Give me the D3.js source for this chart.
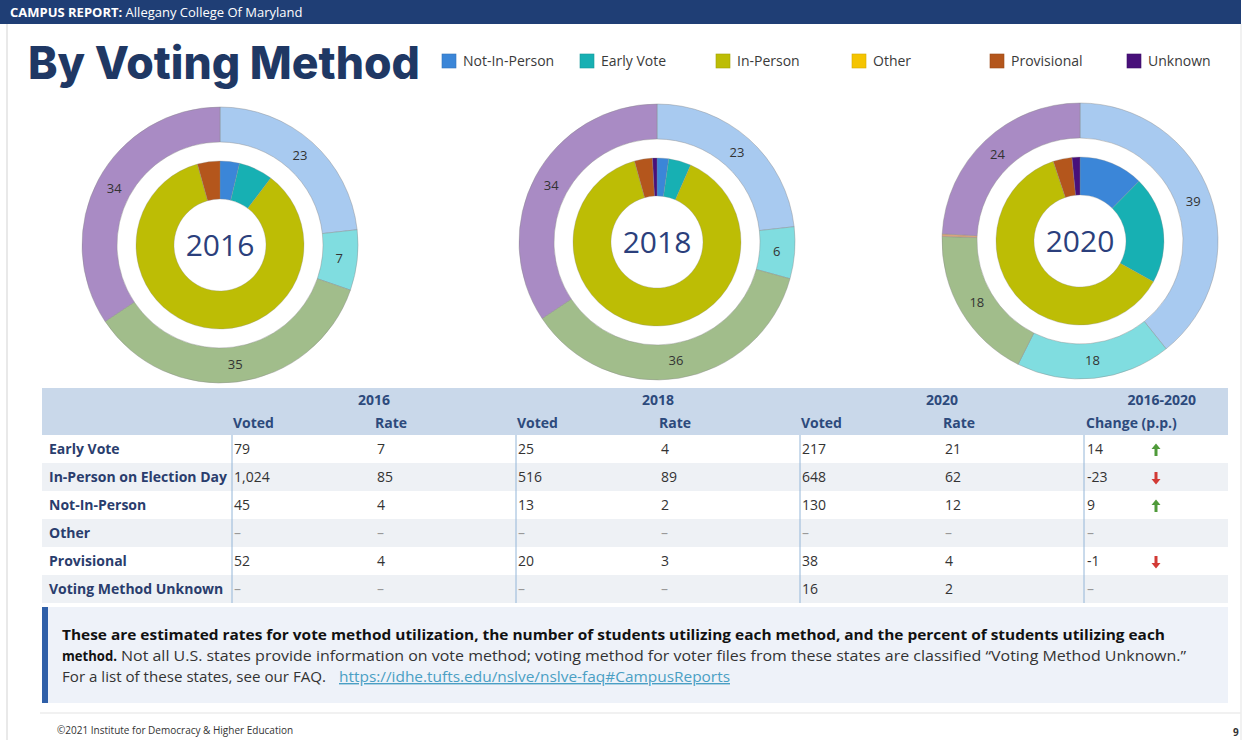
<!doctype html>
<html lang="en">

<head>
    <meta charset="utf-8" />
    <title>By Voting Method</title>
    <script src="https://d3js.org/d3.v7.min.js"></script>
    <style>
        body {
            margin: 0;
            background: #fff;
        }

        svg text {
            font-family: "Open Sans", "DejaVu Sans", sans-serif;
        }
    </style>
</head>

<body>
    <div id="chart"></div>
    <script>
        // methods, in the order the slices run clockwise from 12 o'clock
        const methods = ["Not-In-Person", "Early Vote", "In-Person", "Other", "Provisional", "Unknown"]
        const methodColors = ["#3b86d8", "#17b0b3", "#bdbd05", "#f5c400", "#b4561c", "#48107a"]
        const lightColors = ["#a8caf0", "#80dde0", "#a1bd8b", "#f5dc80", "#d8a47c", "#a98bc4"]
        const years = ["2016", "2018", "2020"]

        // inner ring: students per method (campus)
        const inner2016 = [45, 79, 1024, 0, 52, 0]
        const inner2018 = [13, 25, 516, 0, 20, 5]
        const inner2020 = [130, 217, 648, 0, 38, 16]
        // outer ring: shares printed on the ring
        const outer2016 = [23, 7, 35, 0, 0, 34]
        const outer2018 = [23, 6, 36, 0, 0, 34]
        const outer2020 = [39, 18, 18, 0, 0.3, 24]

        // table
        const rowLabels = ["Early Vote", "In-Person on Election Day", "Not-In-Person", "Other", "Provisional", "Voting Method Unknown"]
        const voted2016 = [79, 1024, 45, null, 52, null]
        const rate2016 = [7, 85, 4, null, 4, null]
        const voted2018 = [25, 516, 13, null, 20, null]
        const rate2018 = [4, 89, 2, null, 3, null]
        const voted2020 = [217, 648, 130, null, 38, 16]
        const rate2020 = [21, 62, 12, null, 4, 2]
        const change = [14, -23, 9, null, -1, null]

        const W = 1253, H = 740
        const navy = "#1f3864"

        const svg = d3.select("#chart")
            .append("svg")
            .attr("width", W)
            .attr("height", H)

        // page edges
        svg.append("line").attr("x1", 7).attr("x2", 7).attr("y1", 24).attr("y2", H)
            .attr("stroke", "#e2e2e2").attr("stroke-width", 1.5)
        svg.append("line").attr("x1", 1241).attr("x2", 1241).attr("y1", 24).attr("y2", H)
            .attr("stroke", "#ececec").attr("stroke-width", 1.5)

        // top banner
        svg.append("rect").attr("x", 0).attr("y", 0).attr("width", 1241).attr("height", 24).attr("fill", "#1f3e75")
        const banner = svg.append("text").attr("x", 10).attr("y", 17).attr("fill", "#fff").attr("font-size", 13)
        banner.append("tspan").attr("font-weight", 700).text("CAMPUS REPORT:")
        banner.append("tspan").text(" Allegany College Of Maryland")

        // title
        svg.append("text")
            .attr("x", 28).attr("y", 79)
            .attr("font-size", 45).attr("font-weight", 800)
            .attr("fill", navy)
            .attr("textLength", 392).attr("lengthAdjust", "spacingAndGlyphs")
            .style("font-family", "Inter, 'Open Sans', sans-serif")
            .text("By Voting Method")

        // legend
        const legendX = d3.scaleOrdinal()
            .domain(methods)
            .range([442, 580, 716, 852, 990, 1127])
        const legend = svg.append("g").selectAll("g")
            .data(methods)
            .join("g")
            .attr("transform", d => `translate(${legendX(d)},54)`)
        legend.append("rect")
            .attr("width", 14).attr("height", 14)
            .attr("fill", (d, i) => methodColors[i])
            .attr("stroke", (d, i) => d3.color(methodColors[i]).darker(0.4))
            .attr("stroke-width", 0.6)
        legend.append("text")
            .attr("x", 21).attr("y", 12)
            .attr("font-size", 14).attr("fill", "#3a3a3a")
            .text(d => d)

        // donuts
        const donutX = d3.scaleOrdinal().domain(years).range([220, 657, 1080])
        const donutY = d3.scaleOrdinal().domain(years).range([245, 242, 241])
        const innerData = [inner2016, inner2018, inner2020]
        const outerData = [outer2016, outer2018, outer2020]

        const pie = d3.pie().sort(null).value(d => d.v)
        const outerArc = d3.arc().innerRadius(103).outerRadius(138)
        const innerArc = d3.arc().innerRadius(46).outerRadius(84)
        const labelArc = d3.arc().innerRadius(120).outerRadius(120)

        years.forEach((yr, k) => {
            const g = svg.append("g")
                .attr("transform", `translate(${donutX(yr)},${donutY(yr)})`)

            const outerSlices = pie(outerData[k].map((v, i) => ({ v, i })))
            g.selectAll("path.outer")
                .data(outerSlices.filter(d => d.data.v > 0))
                .join("path")
                .attr("class", "outer")
                .attr("d", outerArc)
                .attr("fill", d => lightColors[d.data.i])
                .attr("stroke", "#8a8a8a").attr("stroke-opacity", 0.6).attr("stroke-width", 0.7)

            const innerSlices = pie(innerData[k].map((v, i) => ({ v, i })))
            g.selectAll("path.inner")
                .data(innerSlices.filter(d => d.data.v > 0))
                .join("path")
                .attr("class", "inner")
                .attr("d", innerArc)
                .attr("fill", d => methodColors[d.data.i])
                .attr("stroke", "#8a8a8a").attr("stroke-opacity", 0.5).attr("stroke-width", 0.6)

            g.selectAll("text.lbl")
                .data(outerSlices.filter(d => d.data.v >= 1))
                .join("text")
                .attr("class", "lbl")
                .attr("transform", d => `translate(${labelArc.centroid(d)})`)
                .attr("text-anchor", "middle").attr("dy", "0.35em")
                .attr("font-size", 13).attr("fill", "#333")
                .text(d => d.data.v)

            g.append("text")
                .attr("text-anchor", "middle").attr("y", 11)
                .attr("font-size", 30).attr("fill", "#2b3f7c")
                .text(yr)
        })

        // table
        const tLeft = 42, tRight = 1228
        const colGroup = d3.scaleBand().domain(years).range([232, 1084])
        const chgX = 1084
        const rowY = d3.scaleBand().domain(rowLabels).range([435, 603])
        const fmt = d3.formatLocale({ decimal: ".", thousands: ",", grouping: [3], currency: ["", ""], minus: "-" }).format(",")

        svg.append("rect").attr("x", tLeft).attr("y", 388).attr("width", tRight - tLeft).attr("height", 47)
            .attr("fill", "#c9d8ea")

        svg.append("g").selectAll("rect")
            .data(rowLabels)
            .join("rect")
            .attr("x", tLeft).attr("width", tRight - tLeft)
            .attr("y", d => rowY(d)).attr("height", rowY.bandwidth())
            .attr("fill", (d, i) => i % 2 ? "#eef1f5" : "#ffffff")

        // column separators
        svg.append("g").selectAll("line")
            .data([...years.map(y => colGroup(y)), chgX])
            .join("line")
            .attr("x1", d => d).attr("x2", d => d)
            .attr("y1", 435).attr("y2", 603)
            .attr("stroke", "#94b6d8").attr("stroke-width", 1)

        const head = svg.append("g").attr("font-size", 14).attr("font-weight", 700).attr("fill", "#2d4a7c")
        head.selectAll("text.yr")
            .data(years)
            .join("text")
            .attr("class", "yr")
            .attr("x", d => colGroup(d) + colGroup.bandwidth() / 2)
            .attr("y", 405).attr("text-anchor", "middle")
            .text(d => d)
        head.append("text").attr("x", 1196).attr("y", 405).attr("text-anchor", "end").text("2016-2020")
        years.forEach(yr => {
            head.append("text").attr("x", colGroup(yr) + 1).attr("y", 428).text("Voted")
            head.append("text").attr("x", colGroup(yr) + 143).attr("y", 428).text("Rate")
        })
        head.append("text").attr("x", chgX + 2).attr("y", 428).text("Change (p.p.)")

        svg.append("g").selectAll("text")
            .data(rowLabels)
            .join("text")
            .attr("x", 49).attr("y", d => rowY(d) + 19)
            .attr("font-size", 14).attr("font-weight", 700).attr("fill", "#2a3d6d")
            .text(d => d)

        const cols = [
            { x: colGroup("2016") + 2, vals: voted2016 },
            { x: colGroup("2016") + 145, vals: rate2016 },
            { x: colGroup("2018") + 2, vals: voted2018 },
            { x: colGroup("2018") + 145, vals: rate2018 },
            { x: colGroup("2020") + 2, vals: voted2020 },
            { x: colGroup("2020") + 145, vals: rate2020 },
            { x: chgX + 3, vals: change }
        ]
        cols.forEach(c => {
            svg.append("g").selectAll("text")
                .data(c.vals)
                .join("text")
                .attr("x", c.x).attr("y", (d, i) => rowY(rowLabels[i]) + 19)
                .attr("font-size", 14)
                .attr("fill", d => d == null ? "#999" : "#333")
                .text(d => d == null ? "–" : fmt(d))
        })

        // change arrows
        const arrowUp = "M-1.5,6 L1.5,6 L1.5,-1 L4.5,-1 L0,-6.5 L-4.5,-1 L-1.5,-1 Z"
        svg.append("g").selectAll("path")
            .data(change.map((v, i) => ({ v, i })).filter(d => d.v != null))
            .join("path")
            .attr("d", arrowUp)
            .attr("transform", d => `translate(1156,${rowY(rowLabels[d.i]) + rowY.bandwidth() / 2 + 1}) rotate(${d.v > 0 ? 0 : 180})`)
            .attr("fill", d => d.v > 0 ? "#4f9a3a" : "#d23a35")

        // note box
        svg.append("rect").attr("x", tLeft).attr("y", 607).attr("width", tRight - tLeft).attr("height", 96)
            .attr("fill", "#eef2f9")
        svg.append("rect").attr("x", tLeft).attr("y", 607).attr("width", 6).attr("height", 96)
            .attr("fill", "#2f5fa8")

        svg.append("text").attr("x", 62).attr("y", 640)
            .attr("font-size", 14).attr("font-weight", 700).attr("fill", "#111")
            .attr("textLength", 1103).attr("lengthAdjust", "spacingAndGlyphs")
            .text("These are estimated rates for vote method utilization, the number of students utilizing each method, and the percent of students utilizing each")
        svg.append("text").attr("x", 62).attr("y", 661)
            .attr("font-size", 14).attr("font-weight", 700).attr("fill", "#111")
            .attr("textLength", 55).attr("lengthAdjust", "spacingAndGlyphs")
            .text("method.")
        svg.append("text").attr("x", 121).attr("y", 661)
            .attr("font-size", 14).attr("fill", "#333")
            .attr("textLength", 1065).attr("lengthAdjust", "spacingAndGlyphs")
            .text("Not all U.S. states provide information on vote method; voting method for voter files from these states are classified “Voting Method Unknown.”")
        svg.append("text").attr("x", 62).attr("y", 682)
            .attr("font-size", 14).attr("fill", "#333")
            .attr("textLength", 264).attr("lengthAdjust", "spacingAndGlyphs")
            .text("For a list of these states, see our FAQ.")
        svg.append("text").attr("x", 339).attr("y", 682)
            .attr("font-size", 14).attr("fill", "#4a9fc4")
            .attr("text-decoration", "underline")
            .attr("textLength", 391).attr("lengthAdjust", "spacingAndGlyphs")
            .text("https://idhe.tufts.edu/nslve/nslve-faq#CampusReports")

        // footer
        svg.append("line").attr("x1", 40).attr("x2", 1241).attr("y1", 713).attr("y2", 713)
            .attr("stroke", "#ececec").attr("stroke-width", 1.5)
        svg.append("text").attr("x", 57).attr("y", 734)
            .attr("font-size", 10).attr("fill", "#333")
            .text("©2021 Institute for Democracy & Higher Education")
        svg.append("text").attr("x", 1233).attr("y", 736)
            .attr("font-size", 10).attr("font-weight", 700).attr("fill", "#333")
            .text("9")
    </script>
</body>

</html>
